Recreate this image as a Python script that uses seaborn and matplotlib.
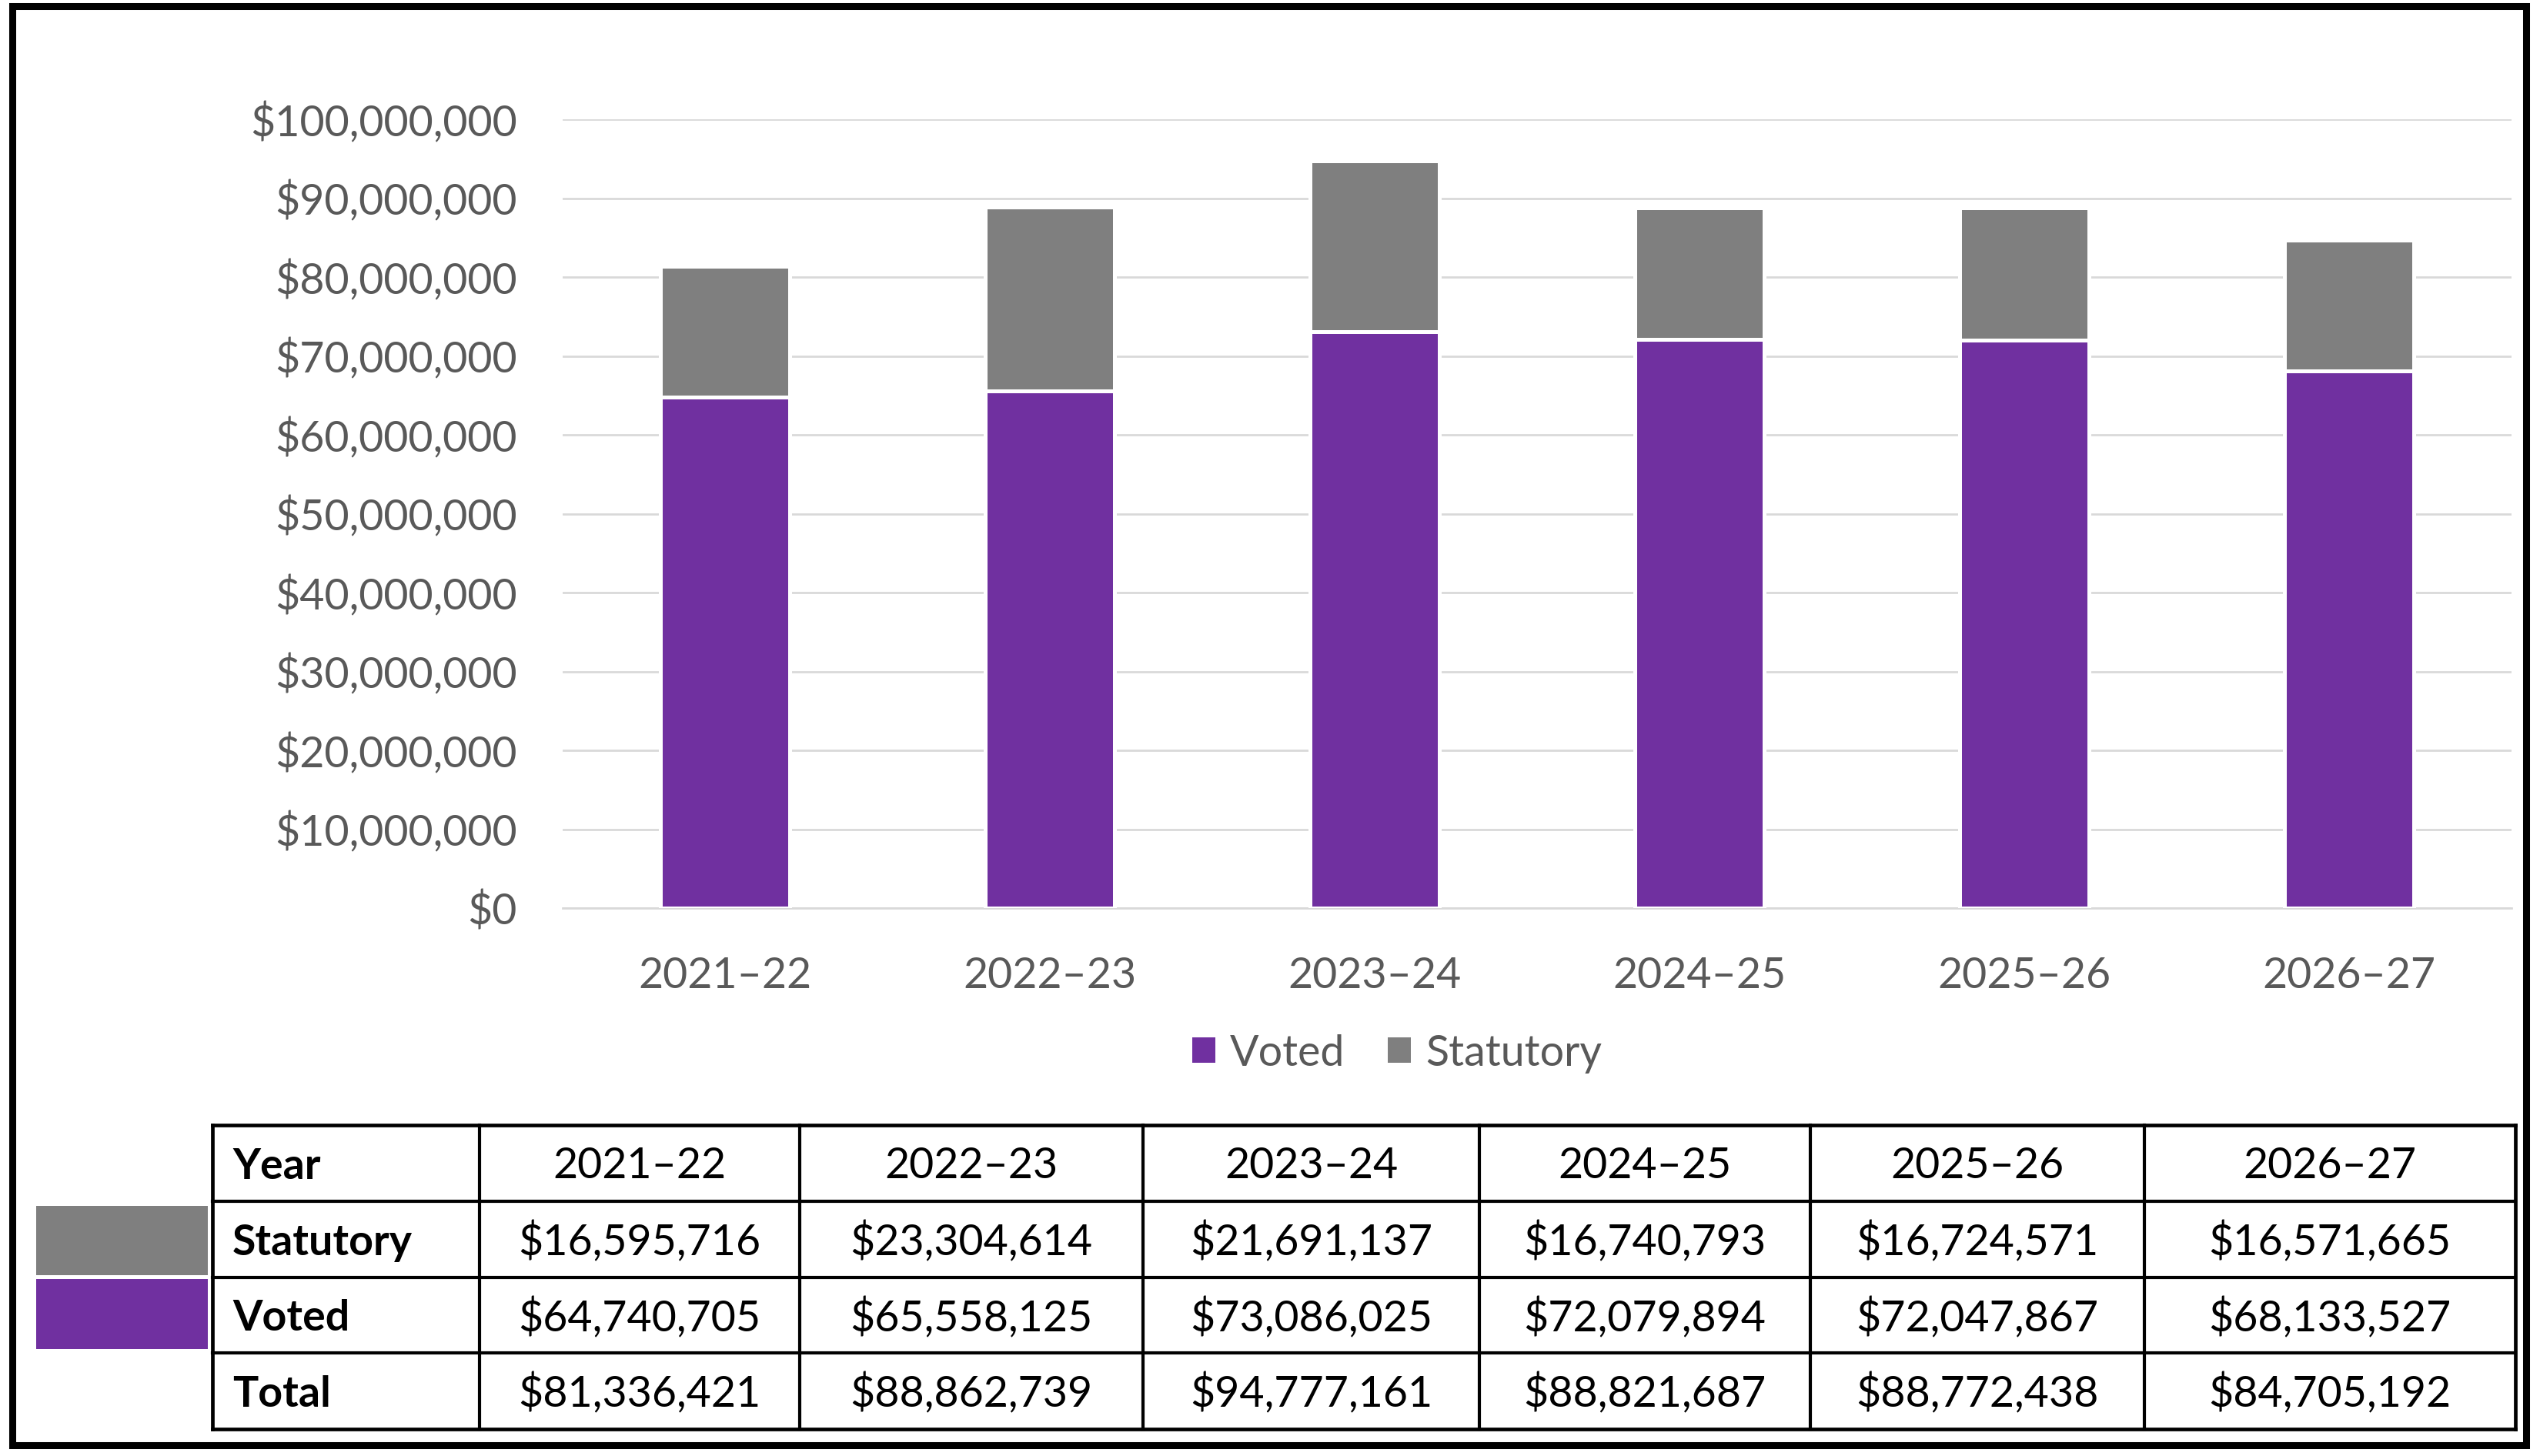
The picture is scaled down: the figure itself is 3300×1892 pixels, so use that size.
import matplotlib
matplotlib.use("Agg")
import matplotlib.pyplot as plt
import seaborn as sns
from matplotlib.patches import Rectangle, Patch
from matplotlib.lines import Line2D
from matplotlib.ticker import FuncFormatter, MultipleLocator

# ---------------- data ----------------
years = ["2021–22", "2022–23", "2023–24", "2024–25", "2025–26", "2026–27"]
statutory = [16595716, 23304614, 21691137, 16740793, 16724571, 16571665]
voted = [64740705, 65558125, 73086025, 72079894, 72047867, 68133527]
totals = [81336421, 88862739, 94777161, 88821687, 88772438, 84705192]
row_labels = ["Year", "Statutory", "Voted", "Total"]
legend_labels = ["Voted", "Statutory"]

PURPLE = "#7030A0"
GRAY = "#7F7F7F"
TICK = "#595959"
GRID = "#D9D9D9"

W, H = 3300, 1892
DPI = 100

sns.set_style("white")
plt.rcParams["font.family"] = ["Lato", "DejaVu Sans"]
FS = 40

fig = plt.figure(figsize=(W / DPI, H / DPI), dpi=DPI)
fig.patch.set_facecolor("white")


def fx(x):
    return x / W


def fy(y):
    return 1 - y / H


# ---------------- bar chart ----------------
ax_l, ax_r, ax_t, ax_b = 731, 3263, 155, 1180
ax = fig.add_axes([fx(ax_l), fy(ax_b), (ax_r - ax_l) / W, (ax_b - ax_t) / H])

sns.barplot(x=years, y=totals, color=GRAY, saturation=1, width=0.4,
            edgecolor="white", linewidth=3.6, errorbar=None, ax=ax, zorder=2)
sns.barplot(x=years, y=voted, color=PURPLE, saturation=1, width=0.4,
            edgecolor="white", linewidth=3.6, errorbar=None, ax=ax, zorder=3)

ax.set_ylim(0, 100_000_000)
ax.set_xlim(-0.5, len(years) - 0.5)
ax.yaxis.set_major_locator(MultipleLocator(10_000_000))
ax.yaxis.set_major_formatter(FuncFormatter(lambda v, p: f"${v:,.0f}"))
ax.set_axisbelow(True)
ax.yaxis.grid(True, color=GRID, linewidth=2.0)
ax.xaxis.grid(False)
for s in ["left", "top", "right"]:
    ax.spines[s].set_visible(False)
ax.spines["bottom"].set_color(GRID)
ax.spines["bottom"].set_linewidth(2.0)
ax.tick_params(axis="y", length=0, pad=42.5, labelsize=FS, labelcolor=TICK)
ax.tick_params(axis="x", length=0, pad=45, labelsize=FS, labelcolor=TICK)
ax.set_xlabel("")
ax.set_ylabel("")
ax.set_facecolor("white")

# legend
handles = [Patch(facecolor=PURPLE, edgecolor="none"),
           Patch(facecolor=GRAY, edgecolor="none")]
fig.legend(handles, legend_labels, loc="center",
           bbox_to_anchor=(fx(1815), fy(1369)), ncol=2, frameon=False,
           fontsize=FS, labelcolor=TICK, handlelength=0.54, handleheight=0.54,
           handletextpad=0.35, columnspacing=1.0, borderpad=0, borderaxespad=0)

# ---------------- data table ----------------
col_x = [276, 623, 1039, 1485, 1922, 2352, 2786, 3268]
row_y = [1462, 1561, 1660, 1758, 1857]

for i, y in enumerate(row_y):
    outer = i in (0, len(row_y) - 1)
    fig.add_artist(Line2D([fx(col_x[0]), fx(col_x[-1])], [fy(y), fy(y)],
                          color="black", linewidth=3.4 if outer else 3.0,
                          solid_capstyle="projecting"))
for j, x in enumerate(col_x):
    outer = j in (0, len(col_x) - 1)
    fig.add_artist(Line2D([fx(x), fx(x)], [fy(row_y[0]), fy(row_y[-1])],
                          color="black", linewidth=3.4 if outer else 3.0,
                          solid_capstyle="projecting"))

rows_values = [years,
               [f"${v:,}" for v in statutory],
               [f"${v:,}" for v in voted],
               [f"${v:,}" for v in totals]]

for r in range(4):
    yc = (row_y[r] + row_y[r + 1]) / 2 + 4
    fig.text(fx(302), fy(yc), row_labels[r], fontsize=FS, fontweight="bold",
             color="black", ha="left", va="center")
    for c in range(6):
        xc = (col_x[c + 1] + col_x[c + 2]) / 2
        fig.text(fx(xc), fy(yc), rows_values[r][c], fontsize=FS,
                 color="black", ha="center", va="center")

# swatches left of the table
fig.add_artist(Rectangle((fx(47), fy(1657)), (270 - 47) / W, (1657 - 1567) / H,
                         transform=fig.transFigure, facecolor=GRAY,
                         edgecolor="none"))
fig.add_artist(Rectangle((fx(47), fy(1753)), (270 - 47) / W, (1753 - 1662) / H,
                         transform=fig.transFigure, facecolor=PURPLE,
                         edgecolor="none"))

# outer border
fig.add_artist(Rectangle((fx(16), fy(1878)), (3282 - 16) / W, (1878 - 8.5) / H,
                         transform=fig.transFigure, fill=False,
                         edgecolor="black", linewidth=6.5))

fig.savefig("out.png", dpi=DPI, facecolor="white")
